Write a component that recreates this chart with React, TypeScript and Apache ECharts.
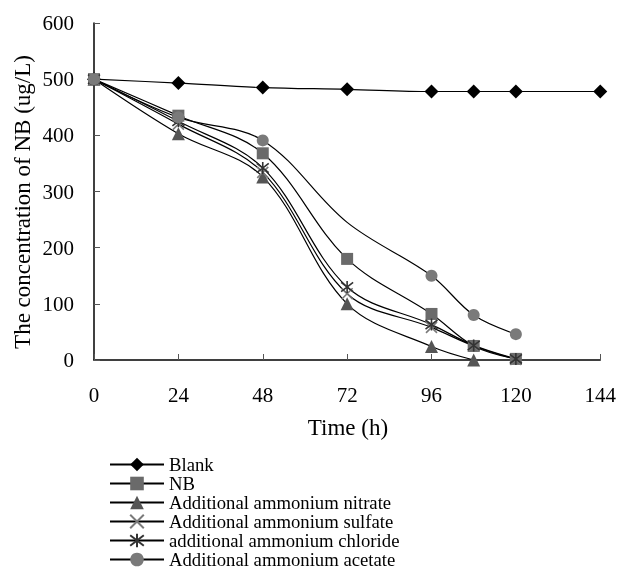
import React, { useEffect, useRef } from "react";
import * as echarts from "echarts";

const times = [0, 24, 48, 72, 96, 108, 120, 144];
const xTicks = [0, 24, 48, 72, 96, 120, 144];
const seriesNames = [
  "Blank",
  "NB",
  "Additional ammonium nitrate",
  "Additional ammonium sulfate",
  "additional ammonium chloride",
  "Additional ammonium acetate",
];
const xTitle = "Time (h)";
const yTitle = "The concentration of NB (ug/L)";
const blank = [500, 493, 485, 482, 478, 478, 478, 478];
const nb = [500, 435, 368, 180, 82, 25, 2];
const nitrate = [500, 403, 326, 100, 24, 0];
const sulfate = [500, 420, 334, 118, 58, 25, 1];
const chloride = [500, 425, 342, 130, 63, 26, 2];
const acetate = [500, 432, 391, 245, 150, 80, 46];
const acetateHiddenIdx = 3;

const XPATH = "path://M0,0 L10,10 M10,0 L0,10";
const STARPATH = "path://M0,0 L10,10 M10,0 L0,10 M5,-1.5 L5,11.5";

const FONT = "'Liberation Serif', 'Times New Roman', serif";

export default function App() {
  const ref = useRef<HTMLDivElement>(null);
  useEffect(() => {
    if (!ref.current) return;
    const chart = echarts.init(ref.current, undefined, { renderer: "svg" });
    const mk = (vals: number[], hiddenIdx = -1) =>
      vals.map((v, i) =>
        i === hiddenIdx ? { value: [times[i], v], symbol: "none" } : { value: [times[i], v] }
      );
    const line = { color: "#000", width: 1.2 };
    const base = (name: string, data: any, symbol: string, size: number, color: string, extra: any = {}) => ({
      type: "line",
      name,
      data,
      symbol,
      symbolSize: size,
      smooth: 0.35,
      lineStyle: line,
      itemStyle: { color, ...extra },
      emphasis: { disabled: true },
    });
    chart.setOption({
      animation: false,
      grid: { left: 94, right: 17, top: 23, bottom: 240 },
      legend: {
        orient: "vertical",
        left: 109,
        top: 455,
        padding: 0,
        itemWidth: 54,
        itemHeight: 17,
        itemGap: 0,
        textStyle: { fontFamily: FONT, fontSize: 18.7, color: "#000" },
        data: seriesNames,
      },
      graphic: [
        {
          type: "text",
          x: 348,
          y: 427,
          style: { text: xTitle, fontFamily: FONT, fontSize: 23, fill: "#000", textAlign: "center", textVerticalAlign: "middle" },
        },
        {
          type: "text",
          x: 22.5,
          y: 202,
          rotation: Math.PI / 2,
          style: { text: yTitle, fontFamily: FONT, fontSize: 23, fill: "#000", textAlign: "center", textVerticalAlign: "middle" },
        },
      ],
      xAxis: {
        type: "value",
        min: 0,
        max: 144,
        interval: 24,
        axisLine: { lineStyle: { color: "#000", width: 1.5 } },
        axisTick: { inside: true, length: 6, lineStyle: { color: "#555" } },
        axisLabel: { fontFamily: FONT, fontSize: 21, color: "#000", margin: 24,
          formatter: (v: number) => (xTicks.includes(v) ? String(v) : "") },
        splitLine: { show: false },
      },
      yAxis: {
        type: "value",
        min: 0,
        max: 600,
        interval: 100,
        axisLine: { show: true, lineStyle: { color: "#000", width: 1.5 } },
        axisTick: { show: true, inside: true, length: 6, lineStyle: { color: "#555" } },
        axisLabel: { fontFamily: FONT, fontSize: 21, color: "#000", margin: 20 },
        splitLine: { show: false },
      },
      series: [
        base(seriesNames[0], mk(blank), "diamond", 14, "#000"),
        base(seriesNames[1], mk(nb), "rect", 12, "#6a6a6a"),
        base(seriesNames[2], mk(nitrate), "triangle", 13, "#555"),
        base(seriesNames[3], mk(sulfate), XPATH, 11, "none", { borderColor: "#7a7a7a", borderWidth: 1.6 }),
        base(seriesNames[4], mk(chloride), STARPATH, 12, "none", { borderColor: "#333", borderWidth: 1.6 }),
        base(seriesNames[5], mk(acetate, acetateHiddenIdx), "circle", 12, "#7a7a7a"),
      ],
    });
    return () => chart.dispose();
  }, []);
  return <div ref={ref} style={{ position: "fixed", left: 0, top: 0, width: 619, height: 600 }} />;
}
